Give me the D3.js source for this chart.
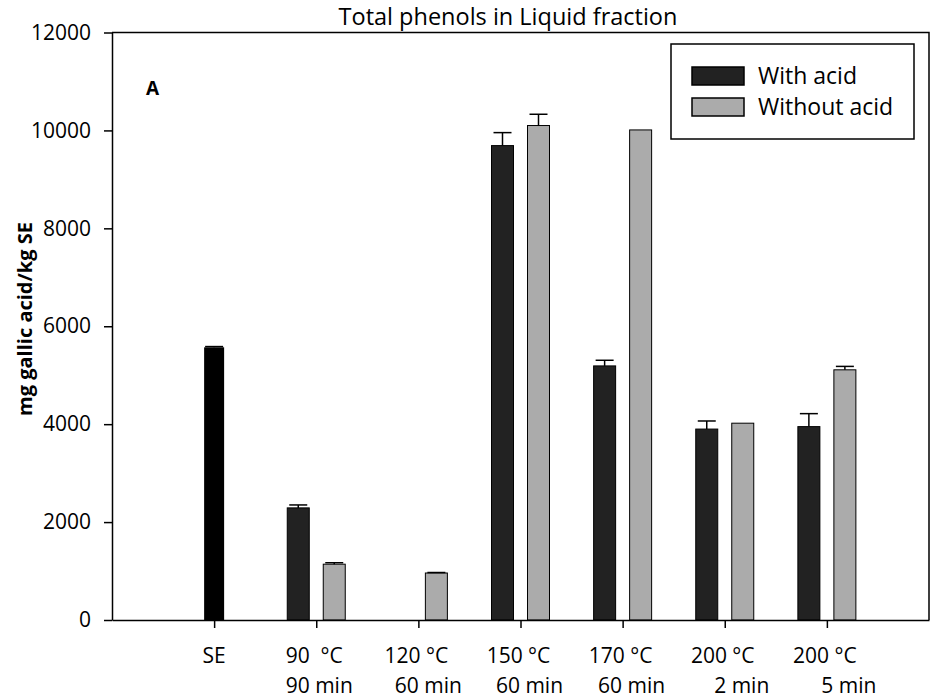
<!DOCTYPE html>
<html>
<head>
<meta charset="utf-8">
<script src="https://cdn.jsdelivr.net/npm/d3@7"></script>
<style>
    body { margin: 0; background: #fff; }
    svg { display: block; font-family: "Open Sans", sans-serif; }
</style>
</head>
<body>
<svg id="chart" width="930" height="698"></svg>
<script>
// category labels, two lines each
const tempLabels = ["SE", "90  °C", "120 °C", "150 °C", "170 °C", "200 °C", "200 °C"];
const timeLabels = ["", "90 min", "60 min", "60 min", "60 min", "2 min", "5 min"];

// mg gallic acid / kg SE
const seValue = 5570;
const seError = 15;
const withAcid = [null, 2290, 0, 9690, 5190, 3900, 3950];
const withAcidError = [null, 60, 0, 265, 115, 165, 265];
const withoutAcid = [null, 1140, 960, 10100, 10010, 4020, 5110];
const withoutAcidError = [null, 30, 10, 230, 0, 0, 70];

const yTicks = [0, 2000, 4000, 6000, 8000, 10000, 12000];
const seriesNames = ["With acid", "Without acid"];

// layout
const layout = {
    left: 112,
    right: 929,
    top: 32.5,
    bottom: 620,
    barWidth: 22,
    barOffset: 18,
    seBarWidth: 20,
    capWidth: 18
};
const colors = { with: "#222222", without: "#ababab", se: "#000000" };
// second label line is not centred exactly under the first one in the original
const timeNudge = [0, 3, 10, 9, 9, 17, 22];

let svg = d3.select("#chart");

let x = d3.scalePoint()
    .domain(d3.range(tempLabels.length))
    .range([layout.left, layout.right])
    .padding(1);

let y = d3.scaleLinear()
    .domain([0, 12000])
    .range([layout.bottom, layout.top]);

// frame: top and right lines
svg.append("path")
    .attr("d", "M" + layout.left + "," + layout.top + "H" + layout.right + "V" + layout.bottom)
    .attr("fill", "none")
    .attr("stroke", "#000")
    .attr("stroke-width", 1.5);

// bars
function drawSeries(values, errors, color, dx, cls) {
    let data = values.map(function(v, i) { return { i: i, v: v, e: errors[i] }; })
        .filter(function(d) { return d.v; });
    svg.selectAll("." + cls).data(data).enter()
        .append("rect")
        .attr("class", cls)
        .attr("x", function(d) { return x(d.i) + dx - layout.barWidth / 2; })
        .attr("y", function(d) { return y(d.v); })
        .attr("width", layout.barWidth)
        .attr("height", function(d) { return y(0) - y(d.v); })
        .attr("fill", color)
        .attr("stroke", "#000")
        .attr("stroke-width", 1);
    drawErrors(data, dx, cls + "Err");
}

function drawErrors(data, dx, cls) {
    let err = svg.selectAll("." + cls).data(data.filter(function(d) { return d.e; })).enter()
        .append("g")
        .attr("class", cls)
        .attr("stroke", "#000")
        .attr("stroke-width", 1.5);
    err.append("line")
        .attr("x1", function(d) { return x(d.i) + dx; })
        .attr("x2", function(d) { return x(d.i) + dx; })
        .attr("y1", function(d) { return y(d.v); })
        .attr("y2", function(d) { return y(d.v + d.e); });
    err.append("line")
        .attr("x1", function(d) { return x(d.i) + dx - layout.capWidth / 2; })
        .attr("x2", function(d) { return x(d.i) + dx + layout.capWidth / 2; })
        .attr("y1", function(d) { return y(d.v + d.e); })
        .attr("y2", function(d) { return y(d.v + d.e); });
}

// SE reference bar
svg.append("rect")
    .attr("x", x(0) - layout.seBarWidth / 2)
    .attr("y", y(seValue))
    .attr("width", layout.seBarWidth)
    .attr("height", y(0) - y(seValue))
    .attr("fill", colors.se);
drawErrors([{ i: 0, v: seValue, e: seError }], 0, "seErr");

drawSeries(withAcid, withAcidError, colors.with, -layout.barOffset, "barWith");
drawSeries(withoutAcid, withoutAcidError, colors.without, layout.barOffset, "barWithout");

// axes
let leftAxis = d3.axisLeft(y).tickValues(yTicks).tickFormat(d3.format("d"))
    .tickSize(8).tickPadding(13).tickSizeOuter(0);
let yAxisG = svg.append("g")
    .attr("transform", "translate(" + layout.left + ",0)")
    .call(leftAxis);
yAxisG.select(".domain").attr("stroke-width", 1.5);
yAxisG.selectAll(".tick line").attr("stroke-width", 1.5);
yAxisG.selectAll("text")
    .style("font-size", "21px")
    .style("font-family", "'Open Sans', sans-serif")
    .attr("fill", "#000");

let bottomAxis = d3.axisBottom(x).tickSize(8).tickSizeOuter(0).tickFormat("");
let xAxisG = svg.append("g")
    .attr("transform", "translate(0," + layout.bottom + ")")
    .call(bottomAxis);
xAxisG.select(".domain").attr("stroke-width", 1.5);
xAxisG.selectAll(".tick line").attr("stroke-width", 1.5);

let labels = svg.append("g")
    .attr("font-size", "21px")
    .attr("text-anchor", "middle");
labels.selectAll(".xTemp").data(tempLabels).enter()
    .append("text")
    .attr("class", "xTemp")
    .attr("xml:space", "preserve")
    .style("white-space", "pre")
    .attr("x", function(d, i) { return x(i) - (i ? 2 : 0); })
    .attr("y", 663)
    .text(function(d) { return d; });
labels.selectAll(".xTime").data(timeLabels).enter()
    .append("text")
    .attr("class", "xTime")
    .attr("x", function(d, i) { return x(i) + timeNudge[i]; })
    .attr("y", 693)
    .text(function(d) { return d; });

// y axis title
svg.append("text")
    .attr("transform", "translate(32," + 319 + ") rotate(-90)")
    .attr("text-anchor", "middle")
    .attr("font-weight", "bold")
    .attr("font-size", "20px")
    .text("mg gallic acid/kg SE");

// chart title
svg.append("text")
    .attr("x", 508)
    .attr("y", 25)
    .attr("text-anchor", "middle")
    .attr("font-size", "23.5px")
    .text("Total phenols in Liquid fraction");

// panel letter
svg.append("text")
    .attr("x", 146)
    .attr("y", 95)
    .attr("font-weight", "bold")
    .attr("font-size", "19px")
    .text("A");

// legend
let legend = svg.append("g").attr("transform", "translate(671,44)");
legend.append("rect")
    .attr("width", 243)
    .attr("height", 95)
    .attr("fill", "#fff")
    .attr("stroke", "#000")
    .attr("stroke-width", 1.5);
let legendItems = legend.selectAll(".legendItem").data(seriesNames).enter()
    .append("g")
    .attr("class", "legendItem")
    .attr("transform", function(d, i) { return "translate(21," + (23 + i * 31) + ")"; });
legendItems.append("rect")
    .attr("width", 52)
    .attr("height", 18)
    .attr("fill", function(d, i) { return i ? colors.without : colors.with; })
    .attr("stroke", "#000")
    .attr("stroke-width", 1.5);
legendItems.append("text")
    .attr("x", 66)
    .attr("y", 17)
    .attr("font-size", "23px")
    .text(function(d) { return d; });
</script>
</body>
</html>
